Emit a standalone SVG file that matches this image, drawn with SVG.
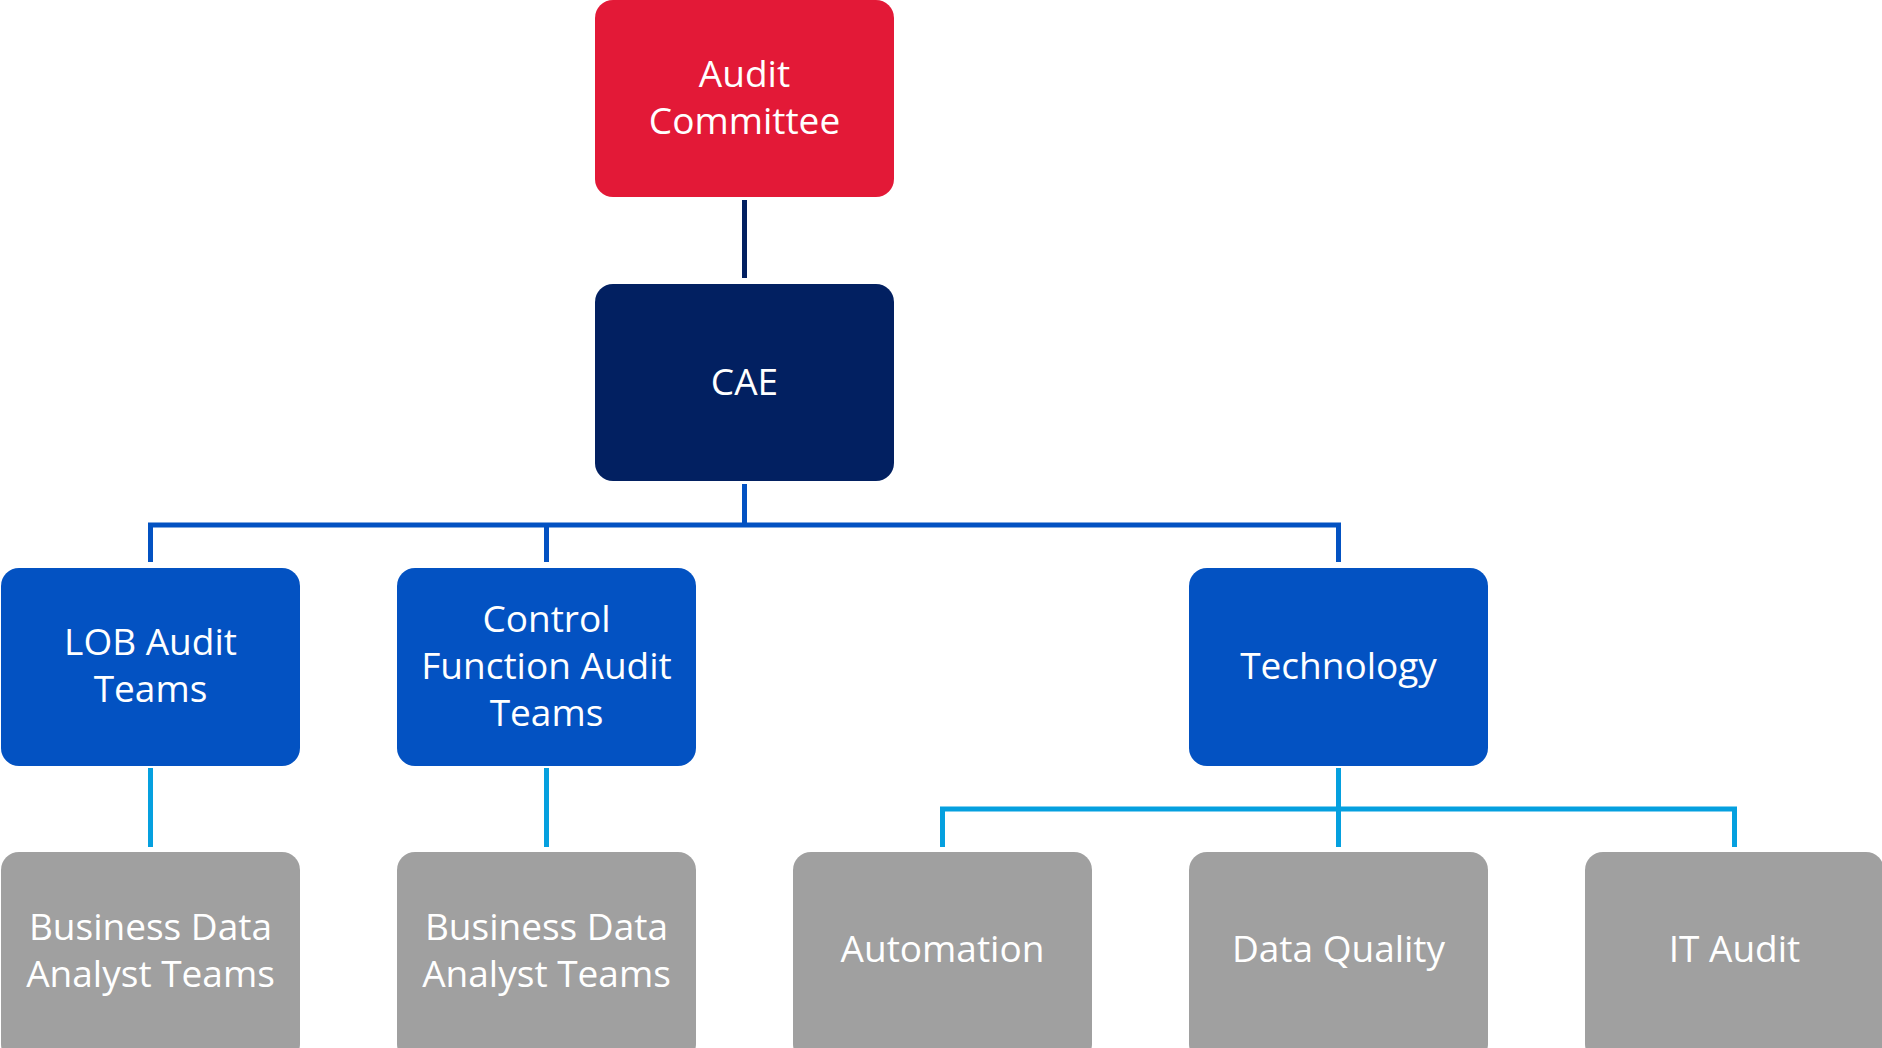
<svg xmlns="http://www.w3.org/2000/svg" width="1882" height="1048" viewBox="0 0 1882 1048">
<style>
.box{stroke:none}
.red{fill:#E31937}
.navy{fill:#022061}
.blue{fill:#0352C2}
.gray{fill:#A0A0A0}
.lbl{font-family:"Open Sans","Noto Sans",sans-serif;font-size:37px;fill:#FFFFFF;text-anchor:middle}
.c-navy{stroke:#022061;stroke-width:5;fill:none}
.c-blue{stroke:#0352C2;stroke-width:5;fill:none;stroke-linejoin:miter}
.c-light{stroke:#05A0DF;stroke-width:5;fill:none;stroke-linejoin:miter}
</style>
<rect width="1882" height="1048" fill="#FFFFFF"/>
<g id="connectors">
<path class="c-navy" d="M744.5,200 V278"/>
<path class="c-blue" d="M744.5,484 V525 M150.5,562 V525 H1338.5 V562 M546.5,525 V562"/>
<path class="c-light" d="M150.5,768 V847 M546.5,768 V847 M942.5,847 V809 H1734.5 V847 M1338.5,768 V847"/>
</g>
<g id="audit-committee">
<rect class="box red" x="595" y="0" width="299" height="197" rx="18"/>
<text class="lbl" x="744.5" y="87">Audit</text>
<text class="lbl" x="744.5" y="134">Committee</text>
</g>
<g id="cae">
<rect class="box navy" x="595" y="284" width="299" height="197" rx="18"/>
<text class="lbl" x="744.5" y="395">CAE</text>
</g>
<g id="lob-audit-teams">
<rect class="box blue" x="1" y="568" width="299" height="198" rx="18"/>
<text class="lbl" x="150.5" y="655">LOB Audit</text>
<text class="lbl" x="150.5" y="702">Teams</text>
</g>
<g id="control-function-audit-teams">
<rect class="box blue" x="397" y="568" width="299" height="198" rx="18"/>
<text class="lbl" x="546.5" y="631.5">Control</text>
<text class="lbl" x="546.5" y="678.5">Function Audit</text>
<text class="lbl" x="546.5" y="725.5">Teams</text>
</g>
<g id="technology">
<rect class="box blue" x="1189" y="568" width="299" height="198" rx="18"/>
<text class="lbl" x="1338.5" y="678.5">Technology</text>
</g>
<g id="bda-teams-1">
<rect class="box gray" x="1" y="852" width="299" height="210" rx="18"/>
<text class="lbl" x="150.5" y="939.5">Business Data</text>
<text class="lbl" x="150.5" y="986.5">Analyst Teams</text>
</g>
<g id="bda-teams-2">
<rect class="box gray" x="397" y="852" width="299" height="210" rx="18"/>
<text class="lbl" x="546.5" y="939.5">Business Data</text>
<text class="lbl" x="546.5" y="986.5">Analyst Teams</text>
</g>
<g id="automation">
<rect class="box gray" x="793" y="852" width="299" height="210" rx="18"/>
<text class="lbl" x="942.5" y="962">Automation</text>
</g>
<g id="data-quality">
<rect class="box gray" x="1189" y="852" width="299" height="210" rx="18"/>
<text class="lbl" x="1338.5" y="962">Data Quality</text>
</g>
<g id="it-audit">
<rect class="box gray" x="1585" y="852" width="299" height="210" rx="18"/>
<text class="lbl" x="1734.5" y="962">IT Audit</text>
</g>
</svg>
